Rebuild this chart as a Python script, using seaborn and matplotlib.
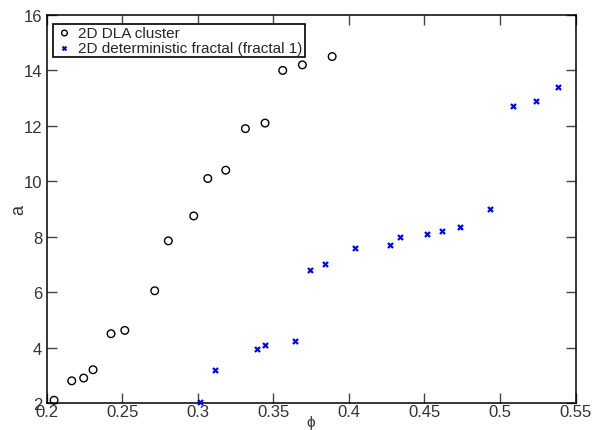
import matplotlib
matplotlib.use("Agg")
import matplotlib.pyplot as plt
import seaborn as sns
import pandas as pd
from matplotlib.ticker import FormatStrFormatter

# DLA cluster data
dla_phi = [0.205, 0.2167, 0.2246, 0.2308, 0.2427, 0.2518, 0.2716, 0.2806,
           0.2974, 0.3067, 0.3186, 0.3316, 0.3446, 0.3563, 0.3693, 0.389]
dla_a = [2.1, 2.8, 2.9, 3.2, 4.5, 4.62, 6.05, 7.85,
         8.75, 10.1, 10.4, 11.9, 12.1, 14.0, 14.2, 14.5]

# deterministic fractal data
det_phi = [0.3016, 0.3113, 0.3393, 0.3444, 0.3643, 0.3744, 0.3841, 0.4042,
           0.4271, 0.4340, 0.4518, 0.4619, 0.4739, 0.4937, 0.5087, 0.5238, 0.5385]
det_a = [2.02, 3.2, 3.95, 4.1, 4.25, 6.8, 7.0, 7.6,
         7.7, 8.0, 8.1, 8.2, 8.35, 9.0, 12.7, 12.9, 13.4]

labels = ["2D DLA cluster", "2D deterministic fractal (fractal 1)"]
x_ticks = [0.2, 0.25, 0.3, 0.35, 0.4, 0.45, 0.5, 0.55]
y_ticks = [2, 4, 6, 8, 10, 12, 14, 16]

sns.set_style("ticks")
plt.rcParams['font.family'] = ['Liberation Sans', 'DejaVu Sans']

fig = plt.figure(figsize=(6.02, 4.31), dpi=100)
ax = fig.add_axes([46.5/602, 1-404/431, (575.5-46.5)/602, (404-16)/431])

df1 = pd.DataFrame({"phi": dla_phi, "a": dla_a})
df2 = pd.DataFrame({"phi": det_phi, "a": det_a})

sns.scatterplot(data=df1, x="phi", y="a", ax=ax, marker="o", s=30,
                facecolor="none", edgecolor="black", linewidth=1.0,
                label=labels[0], clip_on=False, zorder=3)
sns.scatterplot(data=df2, x="phi", y="a", ax=ax, marker="x", s=13,
                color="#0000ff", linewidth=1.6,
                label=labels[1], clip_on=False, zorder=3)

ax.set_xlim(0.2, 0.55)
ax.set_ylim(2, 16)
ax.set_xticks(x_ticks)
ax.set_yticks(y_ticks)
ax.xaxis.set_major_formatter(FormatStrFormatter('%g'))
ax.yaxis.set_major_formatter(FormatStrFormatter('%g'))

for s in ax.spines.values():
    s.set_visible(True)
    s.set_linewidth(1.1)
    s.set_color("black")

ax.tick_params(direction="in", length=7, width=1.0, top=True, right=True,
               labelsize=12, labelcolor="#333333", color="#444444")
ax.tick_params(axis="x", pad=1)
ax.tick_params(axis="y", pad=3)

ax.set_xlabel("\u03d5", fontsize=11, color="#333333", va="center")
ax.xaxis.set_label_coords(0.5, (404 - 423.5) / 388)
ax.set_ylabel("a", fontsize=13, color="#333333", va="center")
ax.yaxis.set_label_coords((19 - 46.5) / 529, 0.5)

leg = ax.legend(loc="upper left", bbox_to_anchor=(6.5/529, 1-8.7/388),
                borderaxespad=0, fancybox=False, framealpha=1,
                edgecolor="black", fontsize=11, markerscale=0.75,
                handletextpad=0.3, borderpad=0.15, labelspacing=0.05,
                handlelength=1.2)
leg.get_frame().set_linewidth(1.2)

fig.savefig("out.png", dpi=100)
